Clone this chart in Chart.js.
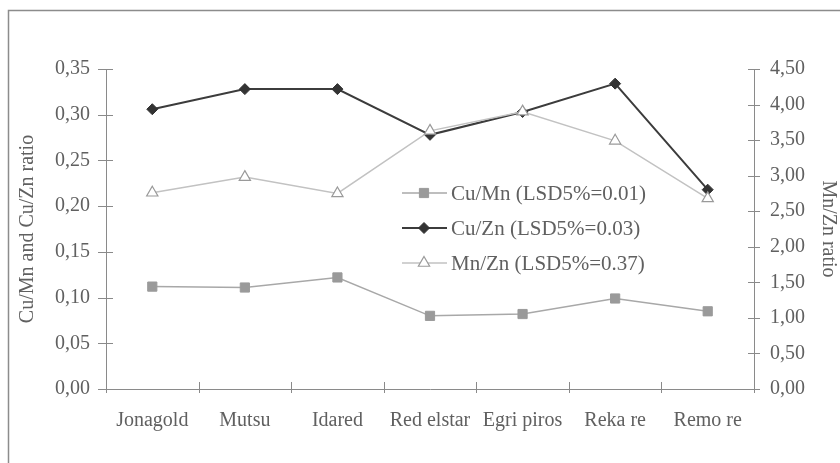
<!DOCTYPE html>
<html>
<head>
<meta charset="utf-8">
<script src="https://cdn.jsdelivr.net/npm/chart.js@4/dist/chart.umd.min.js"></script>
<style>
  html, body { margin: 0; padding: 0; background: #fff; }
  #wrap { width: 840px; height: 463px; position: relative; }
</style>
</head>
<body>
<div id="wrap"><canvas id="c" width="840" height="463"></canvas></div>
<script>
// ---- data ----
const categories = ['Jonagold', 'Mutsu', 'Idared', 'Red elstar', 'Egri piros', 'Reka re', 'Remo re'];
const cuMn = [0.112, 0.111, 0.122, 0.080, 0.082, 0.099, 0.085];
const cuZn = [0.306, 0.328, 0.328, 0.278, 0.303, 0.334, 0.218];
const mnZn = [2.76, 2.98, 2.75, 3.63, 3.90, 3.49, 2.68];
const seriesNames = ['Cu/Mn (LSD5%=0.01)', 'Cu/Zn (LSD5%=0.03)', 'Mn/Zn (LSD5%=0.37)'];
const leftTickLabels = ['0,00', '0,05', '0,10', '0,15', '0,20', '0,25', '0,30', '0,35'];
const rightTickLabels = ['0,00', '0,50', '1,00', '1,50', '2,00', '2,50', '3,00', '3,50', '4,00', '4,50'];
const leftTitle = 'Cu/Mn and Cu/Zn ratio';
const rightTitle = 'Mn/Zn ratio';

const FONT = "'Liberation Serif', 'Times New Roman', serif";
const TEXT = '#606060';
const AXIS = '#8a8a8a';

const styles = [
  { border: '#a8a8a8', bg: '#9a9a9a', pstyle: 'rect', r: 6.5, bw: 1.5, pbw: 1, pborder: '#9a9a9a' },
  { border: '#3c3c3c', bg: '#333333', pstyle: 'rectRot', r: 5.5, bw: 2, pbw: 1, pborder: '#333333' },
  { border: '#c2c2c2', bg: '#ffffff', pstyle: 'triangle', r: 6.5, bw: 1.5, pbw: 1.2, pborder: '#9a9a9a' }
];

const framePlugin = {
  id: 'frame',
  beforeDraw(chart) {
    const ctx = chart.ctx;
    ctx.save();
    ctx.fillStyle = '#fff';
    ctx.fillRect(0, 0, chart.width, chart.height);
    ctx.strokeStyle = '#8c8c8c';
    ctx.lineWidth = 1.5;
    ctx.beginPath();
    ctx.moveTo(8.5, chart.height);
    ctx.lineTo(8.5, 10.5);
    ctx.lineTo(chart.width, 10.5);
    ctx.stroke();
    ctx.restore();
  }
};

const ticksPlugin = {
  id: 'crossTicks',
  afterDraw(chart) {
    const ctx = chart.ctx;
    const ca = chart.chartArea;
    const yl = chart.scales.y, yr = chart.scales.y1, x = chart.scales.x;
    ctx.save();
    ctx.strokeStyle = AXIS;
    ctx.lineWidth = 1;
    ctx.beginPath();
    yl.ticks.forEach((t, i) => {
      const py = Math.round(yl.getPixelForTick(i)) + 0.5;
      ctx.moveTo(ca.left - 8, py); ctx.lineTo(ca.left + 7, py);
    });
    yr.ticks.forEach((t, i) => {
      const py = Math.round(yr.getPixelForTick(i)) + 0.5;
      ctx.moveTo(ca.right - 6, py); ctx.lineTo(ca.right + 6, py);
    });
    for (let k = 0; k <= categories.length; k++) {
      const px = Math.round(x.getPixelForValue(k - 0.5)) + 0.5;
      ctx.moveTo(px, ca.bottom - 7); ctx.lineTo(px, ca.bottom + 4);
    }
    ctx.stroke();

    // legend
    const rows = [193, 228, 263];
    const lx0 = 402, lx1 = 447, mx = 424, tx = 451;
    seriesNames.forEach((name, i) => {
      const s = styles[i];
      const y = rows[i];
      ctx.strokeStyle = s.border;
      ctx.lineWidth = s.bw;
      ctx.beginPath();
      ctx.moveTo(lx0, y); ctx.lineTo(lx1, y);
      ctx.stroke();
      ctx.fillStyle = s.bg;
      ctx.strokeStyle = s.pborder;
      ctx.lineWidth = s.pbw;
      Chart.helpers.drawPoint(ctx, { pointStyle: s.pstyle, radius: s.r, rotation: 0, borderWidth: s.pbw }, mx, y);
      ctx.fillStyle = TEXT;
      ctx.font = '21px ' + FONT;
      ctx.textAlign = 'left';
      ctx.textBaseline = 'middle';
      ctx.fillText(name, tx, y + 1);
    });
    ctx.restore();
  }
};

const datasets = [cuMn, cuZn, mnZn].map((vals, i) => {
  const s = styles[i];
  return {
    label: seriesNames[i],
    data: vals,
    yAxisID: i === 2 ? 'y1' : 'y',
    borderColor: s.border,
    backgroundColor: s.bg,
    borderWidth: s.bw,
    pointStyle: s.pstyle,
    pointRadius: s.r,
    pointHoverRadius: s.r,
    pointBackgroundColor: s.bg,
    pointBorderColor: s.pborder,
    pointBorderWidth: s.pbw,
    tension: 0,
    fill: false,
    order: 2 - i
  };
});

new Chart(document.getElementById('c'), {
  type: 'line',
  data: { labels: categories, datasets },
  options: {
    responsive: false,
    animation: false,
    devicePixelRatio: 1,
    layout: { padding: { top: 69, left: 0, right: 0, bottom: 0 } },
    plugins: { legend: { display: false }, tooltip: { enabled: false } },
    scales: {
      x: {
        offset: true,
        grid: { display: false, drawTicks: false, offset: true },
        border: { display: true, color: AXIS, width: 1 },
        ticks: { color: TEXT, font: { family: FONT, size: 20 }, padding: 20, maxRotation: 0, autoSkip: false },
        afterFit(s) { s.height = 74; }
      },
      y: {
        position: 'left',
        min: 0, max: 0.35,
        grid: { display: false, drawTicks: false },
        border: { display: true, color: AXIS, width: 1 },
        ticks: {
          stepSize: 0.05, color: TEXT, font: { family: FONT, size: 20 }, padding: 16,
          callback: (v, i) => leftTickLabels[i]
        },
        title: { display: true, text: leftTitle, color: TEXT, font: { family: FONT, size: 20 }, padding: { top: 16, bottom: 0 } },
        afterFit(s) { s.width = 106; }
      },
      y1: {
        position: 'right',
        min: 0, max: 4.5,
        grid: { display: false, drawTicks: false },
        border: { display: true, color: AXIS, width: 1 },
        ticks: {
          stepSize: 0.5, color: TEXT, font: { family: FONT, size: 20 }, padding: 16,
          callback: (v, i) => rightTickLabels[i]
        },
        title: { display: true, text: rightTitle, color: TEXT, font: { family: FONT, size: 20 }, padding: { top: 0, bottom: 0 } },
        afterFit(s) { s.width = 86; }
      }
    }
  },
  plugins: [framePlugin, ticksPlugin]
});
</script>
</body>
</html>
